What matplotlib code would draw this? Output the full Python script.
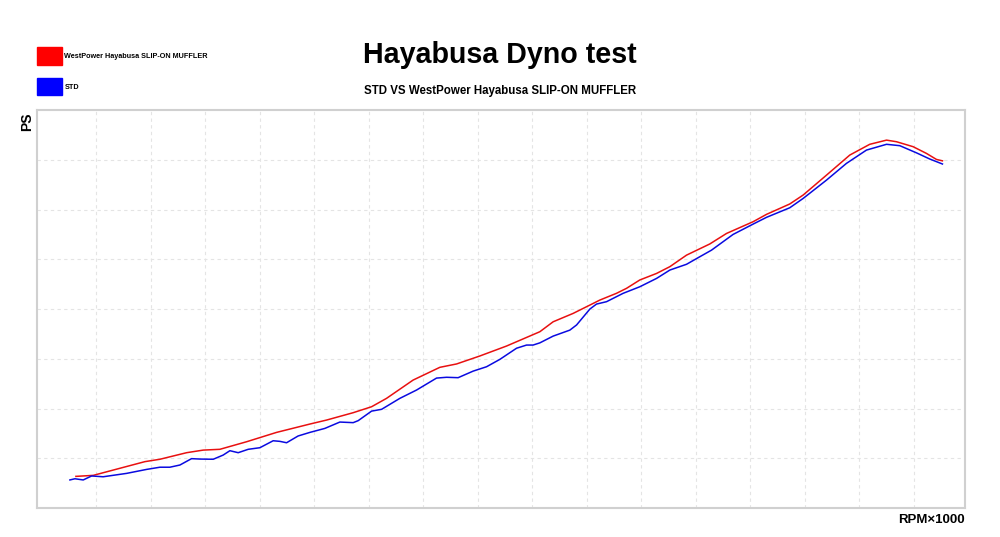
import matplotlib.pyplot as plt
from matplotlib.patches import Patch
import numpy as np

plt.rcParams['font.family'] = ['Liberation Sans', 'DejaVu Sans']

# RPM x1000 and PS
rpm_wp = [2.312, 2.471, 2.945, 3.083, 3.328, 3.480, 3.633, 3.878, 4.153, 4.459,
          4.612, 4.856, 5.025, 5.162, 5.406, 5.651, 5.805, 6.018, 6.263, 6.569,
          6.691, 6.874, 7.028, 7.119, 7.272, 7.364, 7.486, 7.640, 7.762, 7.915,
          8.128, 8.282, 8.526, 8.649, 8.862, 8.985, 9.199, 9.413, 9.596, 9.750,
          9.841, 9.994, 10.117, 10.208, 10.263]
ps_wp = [15.9, 16.4, 23.3, 24.5, 27.8, 29.1, 29.5, 33.3, 38.0, 42.2,
         44.2, 47.9, 50.9, 55.1, 64.3, 70.7, 72.4, 76.4, 81.4, 88.6,
         93.6, 97.8, 102.0, 104.5, 107.9, 110.4, 114.6, 117.9, 121.3, 127.1,
         132.7, 138.0, 143.9, 147.6, 152.8, 157.3, 167.3, 177.4, 182.8, 184.9,
         184.1, 181.6, 178.2, 175.2, 174.5]

rpm_std = [2.257, 2.303, 2.379, 2.456, 2.562, 2.777, 2.961, 3.083, 3.174, 3.266,
           3.373, 3.450, 3.572, 3.663, 3.725, 3.801, 3.893, 4.000, 4.122, 4.183,
           4.245, 4.351, 4.459, 4.596, 4.734, 4.856, 4.902, 5.025, 5.117, 5.284,
           5.438, 5.621, 5.713, 5.819, 5.957, 6.080, 6.202, 6.355, 6.447, 6.507,
           6.569, 6.691, 6.844, 6.906, 7.028, 7.089, 7.181, 7.333, 7.486, 7.640,
           7.762, 7.915, 8.037, 8.144, 8.342, 8.526, 8.649, 8.862, 8.985, 9.199,
           9.382, 9.566, 9.750, 9.872, 10.025, 10.147, 10.263]
ps_std = [14.1, 14.7, 14.1, 16.1, 15.7, 17.4, 19.4, 20.5, 20.5, 21.6,
          24.8, 24.6, 24.5, 26.6, 28.8, 27.8, 29.5, 30.3, 33.8, 33.5,
          32.8, 36.2, 38.0, 40.0, 43.2, 42.9, 43.9, 48.7, 49.6, 55.1,
          59.3, 65.3, 65.7, 65.5, 68.8, 71.0, 74.7, 80.3, 81.9, 81.9,
          83.0, 86.4, 89.4, 92.0, 100.0, 102.5, 103.7, 107.9, 111.2, 115.4,
          119.6, 122.5, 126.3, 129.6, 137.5, 142.7, 146.1, 150.9, 155.6, 164.8,
          173.2, 179.9, 182.8, 182.1, 178.5, 175.4, 172.9]

label_wp = "WestPower Hayabusa SLIP-ON MUFFLER"
label_std = "STD"

fig = plt.figure(figsize=(10, 5.37), dpi=100)
ax = fig.add_axes([0.037, 0.054, 0.928, 0.741])

ax.plot(rpm_wp, ps_wp, color="#e81010", lw=1.1)
ax.plot(rpm_std, ps_std, color="#0a0ae0", lw=1.1)

ax.set_xlim(1.955, 10.47)
ax.set_ylim(0, 200)
ax.set_xticks(np.arange(2.5, 10.01, 0.5))
ax.set_yticks(np.arange(25, 200, 25))
ax.tick_params(length=0, labelbottom=False, labelleft=False)
ax.grid(True, color="#e4e4e4", ls=(0, (3, 3)), lw=0.8)
for s in ax.spines.values():
    s.set_color("#d0d0d0")
    s.set_linewidth(1.5)

fig.text(0.5, 0.898, "Hayabusa Dyno test", ha="center", va="center",
         fontsize=20.6, fontweight="bold")
fig.text(0.5, 0.830, "STD VS WestPower Hayabusa SLIP-ON MUFFLER", ha="center",
         va="center", fontsize=8.3, fontweight="bold")
fig.text(0.027, 0.773, "PS", rotation=90, ha="center", va="center",
         fontsize=10, fontweight="bold")
fig.text(0.965, 0.032, "RPM×1000", ha="right", va="center",
         fontsize=9.5, fontweight="bold")

handles = [Patch(color="#ff0000", label=label_wp),
           Patch(color="#0000ff", label=label_std)]
leg = fig.legend(handles=handles, loc="upper left", bbox_to_anchor=(0.0338, 0.9177),
                 frameon=False, prop={"size": 5.2, "weight": "bold"},
                 handlelength=3.45, handleheight=3.4, handletextpad=0.4,
                 labelspacing=1.77, borderaxespad=0)

fig.savefig("out.png", dpi=100)
